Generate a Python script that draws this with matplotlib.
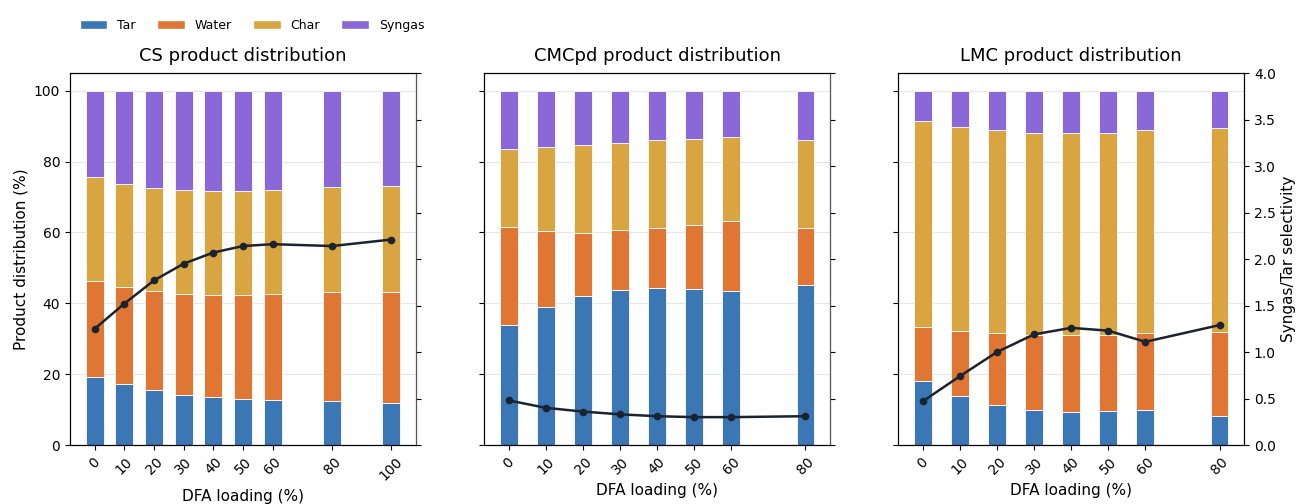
import numpy as np
import matplotlib
matplotlib.use("Agg")
import matplotlib.pyplot as plt
from matplotlib.patches import Patch

# Data
cs_loading = [0, 10, 20, 30, 40, 50, 60, 80, 100]
cs_tar = [19.3, 17.1, 15.5, 14.2, 13.5, 12.9, 12.6, 12.5, 12.0]
cs_water = [26.9, 27.5, 27.9, 28.4, 28.9, 29.4, 29.9, 30.6, 31.1]
cs_char = [29.6, 29.2, 29.1, 29.3, 29.3, 29.5, 29.6, 29.7, 30.0]
cs_syngas = [24.2, 26.2, 27.5, 28.1, 28.3, 28.2, 27.9, 27.2, 26.9]
cs_select = [1.25, 1.52, 1.77, 1.95, 2.07, 2.14, 2.16, 2.14, 2.21]

cmc_loading = [0, 10, 20, 30, 40, 50, 60, 80]
cmc_tar = [34.0, 39.1, 42.2, 43.9, 44.3, 44.1, 43.4, 45.1]
cmc_water = [27.5, 21.2, 17.7, 16.7, 16.9, 18.0, 19.9, 16.1]
cmc_char = [22.0, 23.9, 24.9, 24.8, 24.8, 24.4, 23.7, 24.9]
cmc_syngas = [16.5, 15.8, 15.2, 14.6, 14.0, 13.5, 13.0, 13.9]
cmc_select = [0.48, 0.40, 0.36, 0.33, 0.31, 0.30, 0.30, 0.31]

lmc_loading = [0, 10, 20, 30, 40, 50, 60, 80]
lmc_tar = [18.0, 13.8, 11.2, 9.8, 9.3, 9.5, 9.8, 8.3]
lmc_water = [15.3, 18.5, 20.4, 21.3, 21.8, 21.5, 21.8, 23.6]
lmc_char = [58.3, 57.6, 57.3, 57.1, 57.1, 57.2, 57.4, 57.6]
lmc_syngas = [8.4, 10.1, 11.1, 11.8, 11.8, 11.8, 11.0, 10.5]
lmc_select = [0.47, 0.74, 1.00, 1.19, 1.26, 1.23, 1.11, 1.29]

titles = ["CS product distribution", "CMCpd product distribution", "LMC product distribution"]
components = ["Tar", "Water", "Char", "Syngas"]
colors = ["#3b77b4", "#e07633", "#d9a540", "#8a68d8"]

panels = [
    (cs_loading, [cs_tar, cs_water, cs_char, cs_syngas], cs_select),
    (cmc_loading, [cmc_tar, cmc_water, cmc_char, cmc_syngas], cmc_select),
    (lmc_loading, [lmc_tar, lmc_water, lmc_char, lmc_syngas], lmc_select),
]

fig = plt.figure(figsize=(12.96, 5.04), dpi=100)
lefts = [0.054, 0.3735, 0.693]
first_ax = None

for i, (x, parts, sel) in enumerate(panels):
    ax = fig.add_axes([lefts[i], 0.117, 0.267, 0.738], sharey=first_ax)
    if first_ax is None:
        first_ax = ax
    x = np.array(x, dtype=float)
    width = 0.06 * x.max()
    bottom = np.zeros(len(x))
    for vals, c, name in zip(parts, colors, components):
        ax.bar(x, vals, width=width, bottom=bottom, color=c, edgecolor="white",
               linewidth=0.6, label=name, zorder=2)
        bottom += np.array(vals)
    ax.set_ylim(0, 105)
    ax.set_yticks([0, 20, 40, 60, 80, 100])
    ax.yaxis.grid(True, color="#e6e6e6", linewidth=0.8, zorder=0)
    ax.set_axisbelow(True)
    ax.set_xticks(x)
    ax.set_xticklabels([str(int(v)) for v in x], rotation=45, fontsize=10)
    ax.tick_params(axis="y", labelsize=10)
    ax.set_xlabel("DFA loading (%)", fontsize=11)
    ax.set_title(titles[i], fontsize=13, pad=9)
    if i == 0:
        ax.set_ylabel("Product distribution (%)", fontsize=11)
    else:
        ax.tick_params(axis="y", labelleft=False)

    ax2 = ax.twinx()
    ax2.plot(x, sel, color="#1c2330", marker="o", markersize=4.5, linewidth=1.8, zorder=5)
    ax2.set_ylim(0, 4)
    ax2.set_yticks(np.arange(0, 4.01, 0.5))
    if i == 2:
        ax2.tick_params(axis="y", labelsize=10)
        ax2.set_ylabel("Syngas/Tar selectivity", fontsize=11)
    else:
        ax2.tick_params(axis="y", labelright=False)
        ax2.spines["right"].set_color("#555555")

handles = [Patch(facecolor=c, edgecolor="white", label=n) for c, n in zip(colors, components)]
fig.legend(handles=handles, loc="upper left", bbox_to_anchor=(0.053, 0.985), ncol=4,
           frameon=False, fontsize=9, handlelength=2.2, handletextpad=0.8,
           columnspacing=1.7)

plt.savefig("out.png", dpi=100)
